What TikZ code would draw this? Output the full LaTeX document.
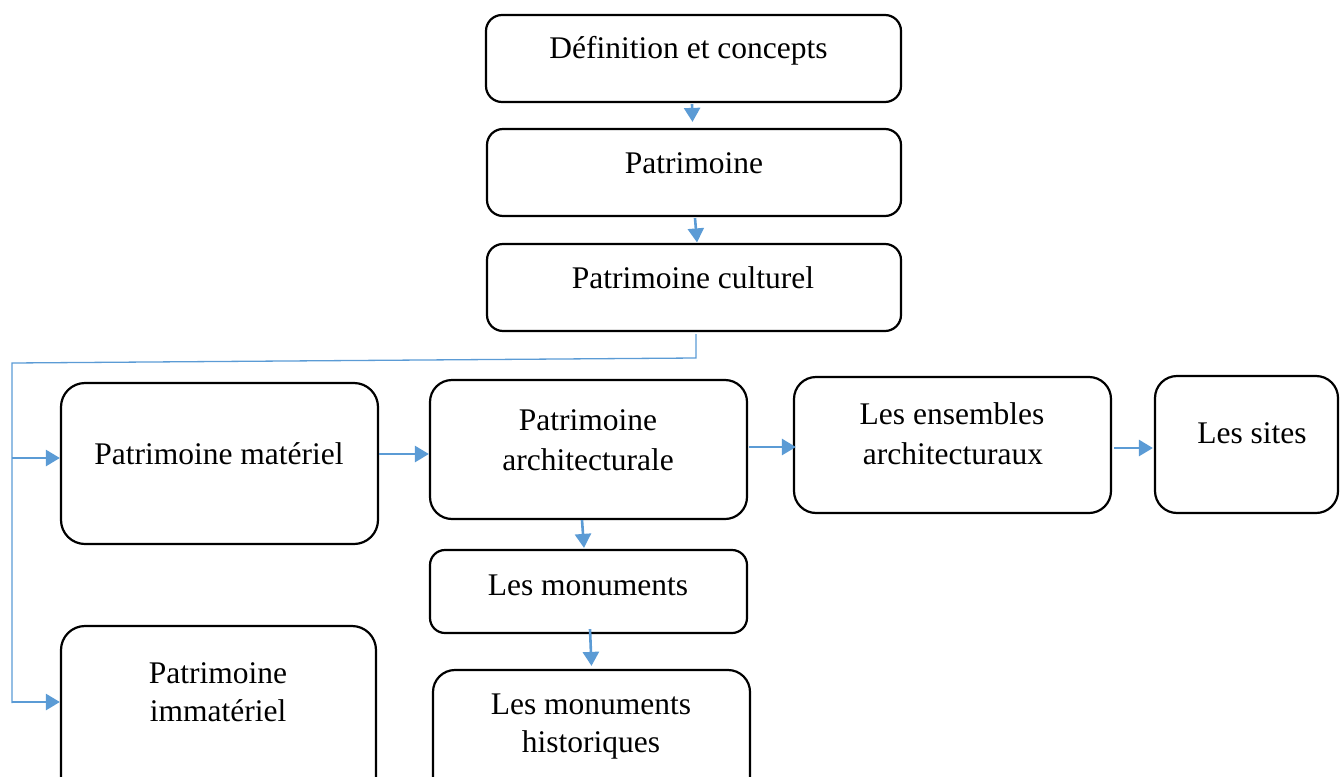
\documentclass[tikz,border=0pt]{standalone}
\usepackage{fontspec}
\setmainfont{Liberation Serif}
\usetikzlibrary{arrows.meta,calc}
\definecolor{arrowblue}{RGB}{91,155,213}
\tikzset{
  box/.style={draw=black, line width=2.2pt, rounded corners=#1, fill=white, inner sep=0pt},
  box/.default=20pt,
  lbl/.style={anchor=base, inner sep=0pt, font=\fontsize{31.5}{38}\selectfont},
  arr/.style={draw=arrowblue, line width=2.6pt, -{Triangle[length=14pt,width=16pt]}},
  tree/.style={draw=arrowblue, line width=1.3pt},
}
\newcommand\mkbox[6]{\node[box=#6, minimum width={#4-#2}, minimum height={#5-#3}] (#1) at ({(#2+#4)/2},{(#3+#5)/2}) {};}
\begin{document}
\begin{tikzpicture}[x=1pt,y=-1pt]
\useasboundingbox (0,0) rectangle (1340,776);
\clip (0,0) rectangle (1340,776);
% boxes
\mkbox{b1}{486}{15}{901}{102}{16pt}
\mkbox{b2}{487}{129}{901}{216}{16pt}
\mkbox{b3}{487}{244}{901}{331}{16pt}
\mkbox{b4}{61}{383}{378}{544}{24pt}
\mkbox{b5}{430}{380}{747}{519}{22pt}
\mkbox{b6}{794}{377}{1111}{513}{22pt}
\mkbox{b7}{1155}{376}{1338}{513}{22pt}
\mkbox{b8}{430}{550}{747}{633}{15pt}
\mkbox{b9}{433}{670}{750}{800}{22pt}
\mkbox{b10}{61}{626}{376}{800}{24pt}
% texts
\node[lbl] (t1) at (688.5,59) {Définition et concepts};
\node[lbl] (t2) at (694,173) {Patrimoine};
\node[lbl] (t3) at (693,288) {Patrimoine culturel};
\node[lbl] (t4) at (219,464) {Patrimoine matériel};
\node[lbl] (t5a) at (588,430) {Patrimoine};
\node[lbl] (t5b) at (588,470) {architecturale};
\node[lbl] (t6a) at (952,424) {Les ensembles};
\node[lbl] (t6b) at (953,464) {architecturaux};
\node[lbl] (t7) at (1252,443) {Les sites};
\node[lbl] (t8) at (588,595) {Les monuments};
\node[lbl] (t9a) at (591,714) {Les monuments};
\node[lbl] (t9b) at (591,752) {historiques};
\node[lbl] (t10a) at (218,683) {Patrimoine};
\node[lbl] (t10b) at (218,721) {immatériel};
% tree connector
\coordinate (k1) at (696,358);
\coordinate (k2) at (12,363);
\coordinate (k3) at (12,703);
\coordinate (j1) at (12,458);
\coordinate (j2) at (12,702);
\draw[tree] ($(b3.south)+(2,2)$) -- (k1) -- (k2) -- (k3);
\draw[arr] (j1) -- (j1 -| b4.west);
\draw[arr] (j2) -- (j2 -| b10.west);
% arrows
\draw[arr] ($(b1.south)+(-1.5,1)$) -- ($(b2.north)+(-1.5,-6)$);
\draw[arr] ($(b2.south)+(1,1)$) -- ($(b3.north)+(3,-0.5)$);
\draw[arr] (b4.east |- 0,454) -- (b5.west |- 0,454);
\draw[arr] ($(b5.east |- 0,447)+(1,0)$) -- ($(b6.west |- 0,447)+(3,0)$);
\draw[arr] ($(b6.east |- 0,448)+(2,0)$) -- ($(b7.west |- 0,448)+(-1,0)$);
\draw[arr] ($(b5.south)+(-6.5,0)$) -- ($(b8.north)+(-4.5,-1)$);
\draw[arr] ($(b8.south)+(1.5,-5)$) -- ($(b9.north)+(0,-3)$);
\end{tikzpicture}
\end{document}
